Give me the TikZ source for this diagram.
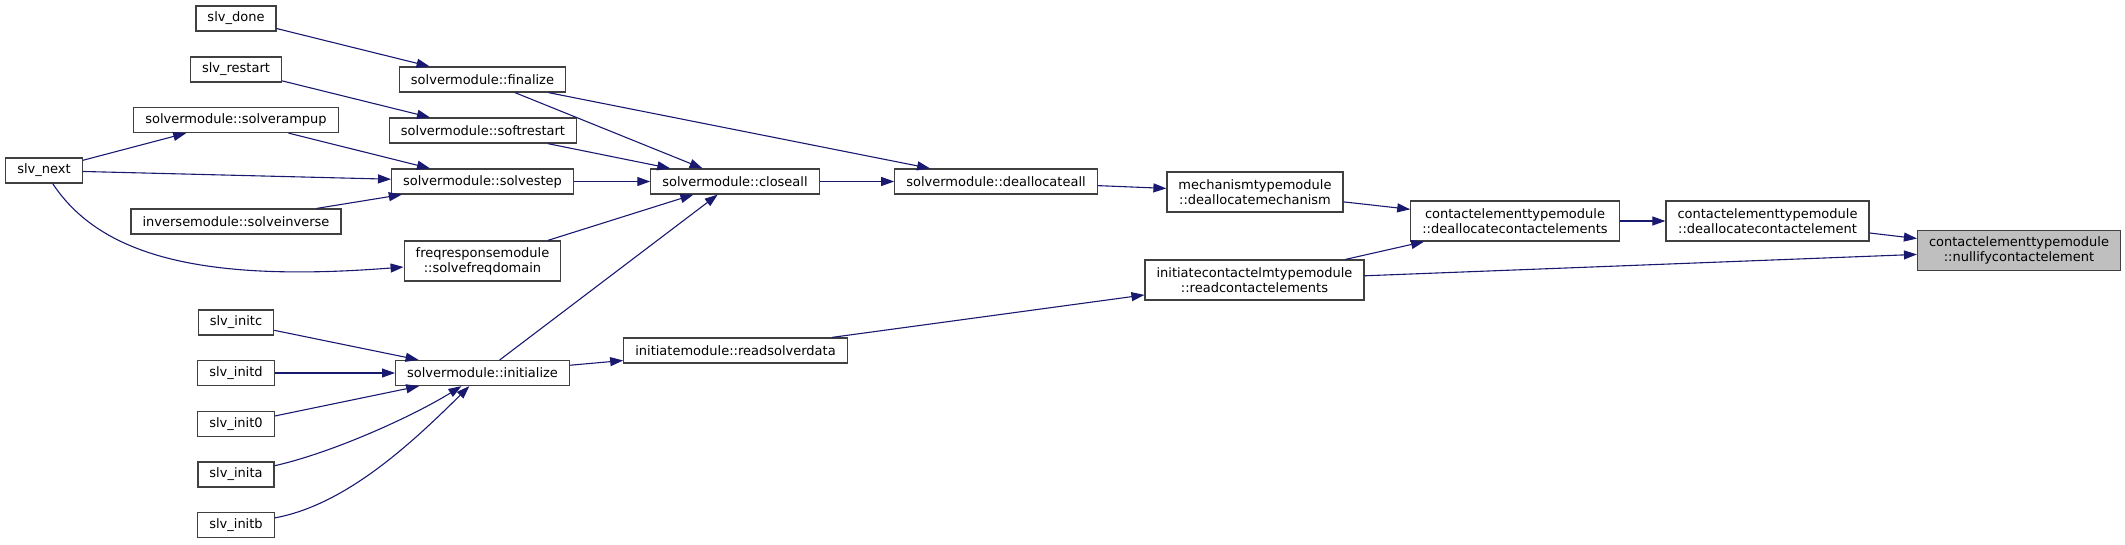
\documentclass[tikz,border=0pt]{standalone}
\usepackage{fontspec}
\setmainfont{DejaVu Sans}
\usetikzlibrary{arrows.meta}
\definecolor{edgeblue}{HTML}{191970}
\definecolor{boxgray}{HTML}{404040}
\definecolor{hlgray}{HTML}{BFBFBF}

\begin{document}
\begin{tikzpicture}[
    x=1pt, y=-1pt,
    fnbox/.style={rectangle, draw=boxgray, fill=white, line width=1.2pt, minimum height=25pt, inner xsep=11.5pt, inner ysep=2pt, align=center, font=\fontsize{13}{15}\selectfont},
    twoline/.style={fnbox, minimum height=40pt},
    call/.style={draw=edgeblue, line width=1.1pt, -{Triangle[length=13pt, width=9pt]}},
  ]
    \useasboundingbox (0,0) rectangle (2125,544);

    % Left column
    \node[fnbox] (done) at (236, 18.5) {slv\_done};
    \node[fnbox] (restart) at (236, 69.5) {slv\_restart};
    \node[fnbox] (rampup) at (236, 120) {solvermodule::solverampup};
    \node[fnbox] (next) at (44, 170.5) {slv\_next};
    \node[fnbox] (inverse) at (236, 221.5) {inversemodule::solveinverse};
    \node[fnbox] (initc) at (236, 322.5) {slv\_initc};
    \node[fnbox] (initd) at (236, 373) {slv\_initd};
    \node[fnbox] (initzero) at (236, 424) {slv\_init0};
    \node[fnbox] (inita) at (236, 474.5) {slv\_inita};
    \node[fnbox] (initb) at (236, 525) {slv\_initb};

    % solvermodule
    \node[fnbox] (finalize) at (482.5, 79.5) {solvermodule::finalize};
    \node[fnbox] (softrestart) at (483, 130.5) {solvermodule::softrestart};
    \node[fnbox] (solvestep) at (482.5, 181.5) {solvermodule::solvestep};
    \node[twoline] (freqdomain) at (482.5, 261) {freqresponsemodule\\::solvefreqdomain};
    \node[fnbox] (initialize) at (482.5, 373) {solvermodule::initialize};
    \node[fnbox] (closeall) at (735, 181.5) {solvermodule::closeall};
    \node[fnbox] (deallocall) at (996, 181.5) {solvermodule::deallocateall};
    \node[fnbox] (readsolver) at (735.5, 350.5) {initiatemodule::readsolverdata};

    % Contact elements
    \node[twoline] (deallocmech) at (1255, 192) {mechanismtypemodule\\::deallocatemechanism};
    \node[twoline] (readcontact) at (1254.5, 280) {initiatecontactelmtypemodule\\::readcontactelements};
    \node[twoline] (deallocelems) at (1515, 221) {contactelementtypemodule\\::deallocatecontactelements};
    \node[twoline] (deallocelem) at (1767.5, 221) {contactelementtypemodule\\::deallocatecontactelement};
    \node[twoline, fill=hlgray, draw=boxgray] (nullify) at (2019, 250.5) {contactelementtypemodule\\::nullifycontactelement};

    % Calls
    \draw[call] (done) -- (finalize);
    \draw[call] (restart) -- (softrestart);
    \draw[call] (next) -- (rampup);
    \draw[call] (rampup) -- (solvestep);
    \draw[call] (next) -- (solvestep);
    \draw[call] (inverse) -- (solvestep);
    \draw[call] (next) .. controls (100,255) and (200,283) .. ([yshift=-6pt]freqdomain.west);
    \draw[call] (initc) -- (initialize);
    \draw[call] (initd) -- (initialize);
    \draw[call] (initzero) -- (initialize);
    \draw[call] (inita) .. controls (335,452) and (415,415) .. (initialize);
    \draw[call] (initb) .. controls (345,505) and (410,445) .. (initialize);
    \draw[call] (finalize) -- (closeall);
    \draw[call] (softrestart) -- (closeall);
    \draw[call] (solvestep) -- (closeall);
    \draw[call] (freqdomain) -- (closeall);
    \draw[call] (initialize) -- (closeall);
    \draw[call] (finalize) -- (deallocall);
    \draw[call] (closeall) -- (deallocall);
    \draw[call] (initialize) -- (readsolver);
    \draw[call] (deallocall) -- (deallocmech);
    \draw[call] (readsolver) -- (readcontact);
    \draw[call] (deallocmech) -- (deallocelems);
    \draw[call] (readcontact) -- (deallocelems);
    \draw[call] (readcontact) -- (nullify);
    \draw[call] (deallocelems) -- (deallocelem);
    \draw[call] (deallocelem) -- (nullify);

  \end{tikzpicture}
\end{document}
